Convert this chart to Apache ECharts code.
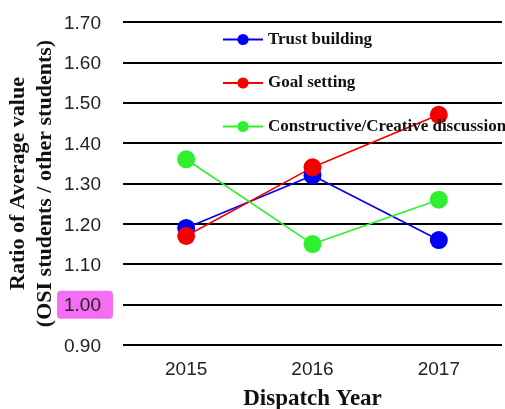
<!DOCTYPE html>
<html>
<head>
<meta charset="utf-8">
<script src="https://cdn.jsdelivr.net/npm/echarts@6/dist/echarts.min.js"></script>
<style>
  html, body { margin: 0; padding: 0; background: #fff; }
  #main { width: 505px; height: 409px; }
</style>
</head>
<body>
<div id="main"></div>
<script>
// data
const years = ['2015', '2016', '2017']
const trustBuilding = [1.19, 1.32, 1.16]
const goalSetting = [1.17, 1.34, 1.47]
const constructive = [1.36, 1.15, 1.26]
const seriesNames = ['Trust building', 'Goal setting', 'Constructive/Creative discussion']

const chart = echarts.init(document.getElementById('main'))

const labelPad = [6, 12, 3, 7]

function lineSeries (name, data, color) {
  return {
    name: name,
    type: 'line',
    data: data,
    symbol: 'circle',
    symbolSize: 18,
    itemStyle: { color: color },
    lineStyle: { color: color, width: 1.6 }
  }
}

const option = {
  animation: false,
  grid: { left: 123, right: 3, top: 22, bottom: 64, outerBoundsMode: 'none' },
  legend: {
    orient: 'vertical',
    left: 217,
    top: 26,
    itemWidth: 40,
    itemHeight: 14,
    itemGap: 26.5,
    textStyle: {
      fontFamily: 'Liberation Serif',
      fontWeight: 'bold',
      fontSize: 17,
      color: '#111'
    },
    data: seriesNames
  },
  xAxis: {
    type: 'category',
    data: years,
    boundaryGap: true,
    axisLine: { show: false },
    axisTick: { show: false },
    axisLabel: {
      margin: 15,
      fontFamily: 'Liberation Sans',
      fontSize: 19,
      color: '#222'
    },
    name: 'Dispatch Year',
    nameLocation: 'middle',
    nameMoveOverlap: false,
    nameGap: 43,
    nameTextStyle: {
      fontFamily: 'Liberation Serif',
      fontWeight: 'bold',
      fontSize: 23,
      color: '#111'
    }
  },
  yAxis: {
    type: 'value',
    min: 0.9,
    max: 1.7,
    interval: 0.1,
    axisLine: { show: false },
    axisTick: { show: false },
    splitLine: { lineStyle: { color: '#000', width: 2 } },
    axisLabel: {
      margin: 10,
      formatter: function (v) {
        const t = v.toFixed(2)
        return Math.abs(v - 1) < 1e-6 ? '{hl|' + t + '}' : '{n|' + t + '}'
      },
      rich: {
        n: {
          fontFamily: 'Liberation Sans',
          fontSize: 19,
          color: '#222',
          padding: labelPad
        },
        hl: {
          fontFamily: 'Liberation Sans',
          fontSize: 19,
          color: '#222',
          padding: labelPad,
          backgroundColor: '#f46ef4',
          borderRadius: 4
        }
      }
    },
    name: 'Ratio of Average value\n(OSI students / other students)',
    nameLocation: 'middle',
    nameMoveOverlap: false,
    nameRotate: 90,
    nameGap: 64,
    nameTextStyle: {
      fontFamily: 'Liberation Serif',
      fontWeight: 'bold',
      fontSize: 22,
      lineHeight: 27,
      color: '#111'
    }
  },
  series: [
    lineSeries(seriesNames[0], trustBuilding, '#0000f5'),
    lineSeries(seriesNames[1], goalSetting, '#f50000'),
    lineSeries(seriesNames[2], constructive, '#2ef02e')
  ]
}

chart.setOption(option)
</script>
</body>
</html>
